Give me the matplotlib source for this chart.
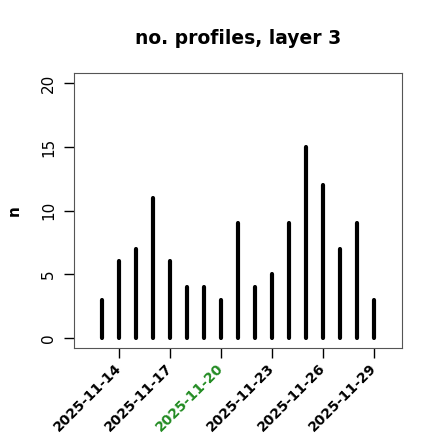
import datetime as dt

import matplotlib
matplotlib.use("Agg")
import matplotlib.pyplot as plt
import matplotlib.dates as mdates

days = [dt.date(2025, 11, d) for d in range(13, 30)]
counts = [3, 6, 7, 11, 6, 4, 4, 3, 9, 4, 5, 9, 15, 12, 7, 9, 3]
tick_days = [dt.date(2025, 11, d) for d in (14, 17, 20, 23, 26, 29)]
tick_colors = ["black", "black", "#228B22", "black", "black", "black"]

fig = plt.figure(figsize=(4.4, 4.4), dpi=100)
ax = fig.add_axes([0.168, 0.209, 0.746, 0.625])

x = mdates.date2num(days)
ax.vlines(x, 0, counts, color="black", lw=3, capstyle="round")

ax.set_xlim(x[0] - 1.67, x[-1] + 1.67)
ax.set_ylim(-0.8, 20.8)
ax.set_yticks([0, 5, 10, 15, 20])
ax.set_xticks(mdates.date2num(tick_days))
ax.set_xticklabels([d.strftime("%Y-%m-%d") for d in tick_days],
                   rotation=45, ha="right", va="center", rotation_mode="anchor",
                   fontweight="bold", fontsize=10)
for lab, c in zip(ax.get_xticklabels(), tick_colors):
    lab.set_color(c)
for lab in ax.get_yticklabels():
    lab.set_rotation(90)
    lab.set_va("center")
    lab.set_fontsize(11)

ax.tick_params(direction="out", length=7, width=1)
ax.tick_params(axis="y", pad=6)
ax.tick_params(axis="x", pad=6)
for s in ax.spines.values():
    s.set_color("#555555")
ax.set_ylabel("n", fontweight="bold", fontsize=11, labelpad=14)
ax.set_title("no. profiles, layer 3", fontweight="bold", fontsize=13.5, pad=21)

fig.savefig("out.png", dpi=100)
